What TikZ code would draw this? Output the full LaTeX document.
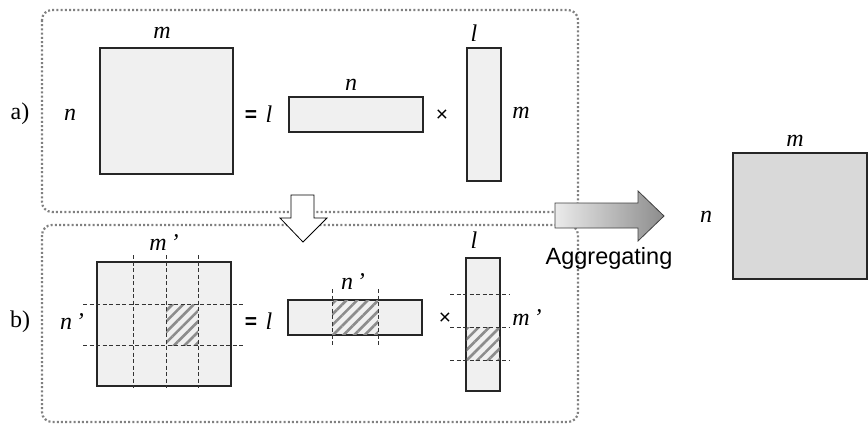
\documentclass[tikz,border=0pt]{standalone}
\usepackage{fontspec}
\setmainfont{Liberation Serif}
\setsansfont{Liberation Sans}
\usepackage{tikz}
\usetikzlibrary{patterns.meta,shadows}

\tikzset{
  mat/.style={draw=black!85, line width=1.1pt, fill=black!6, inner sep=0pt,
    drop shadow={shadow xshift=1pt, shadow yshift=-1.2pt, opacity=0.25}},
  lab/.style={font=\fontsize{24}{28}\selectfont\itshape, inner sep=0pt},
  tag/.style={font=\fontsize{24}{28}\selectfont, inner sep=0pt},
  op/.style={font=\sffamily\fontsize{21}{24}\selectfont, inner sep=0pt},
  panel/.style={draw=black!50, line width=2.2pt, dash pattern=on 2pt off 2.2pt, rounded corners=10pt},
  grid/.style={black!80, line width=0.7pt, dash pattern=on 4pt off 2.5pt},
  hatch/.style={fill=white, pattern={Lines[angle=45, distance=7.5pt, line width=2.6pt]}, pattern color=black!45}
}

\begin{document}
\begin{tikzpicture}[x=1pt, y=-1pt]
    \useasboundingbox (0,0) rectangle (868,424);
    % Draw dotted panels
    \draw[panel] (42,10) rectangle (578,212);
    \draw[panel] (42,225) rectangle (578,422);

    % Panel a
    \node[mat, minimum width=133pt, minimum height=126pt] (Xa) at (166.5,111) {};
    \node[mat, minimum width=134pt, minimum height=35pt] (Ua) at (356,114.5) {};
    \node[mat, minimum width=34pt, minimum height=133pt] (Va) at (484,114.5) {};
    \node[tag] (tagA) at (20,114) {a)};
    \node[lab] (nXa) at (70,115) {n};
    \node[lab] (mXa) at (162,33) {m};
    \node[op, font=\sffamily\bfseries\fontsize{21}{24}\selectfont] (eqA) at (251,116) {=};
    \node[lab] (lUa) at (269,114) {l};
    \node[lab] (nUa) at (351,85) {n};
    \node[op] (timesA) at (442,116) {×};
    \node[lab] (lVa) at (474,33) {l};
    \node[lab] (mVa) at (521,113) {m};

    % Panel b
    \node[mat, minimum width=134pt, minimum height=124pt] (Xb) at (164,324) {};
    \node[mat, minimum width=134pt, minimum height=35pt] (Ub) at (355,317.5) {};
    \node[mat, minimum width=34pt, minimum height=133pt] (Vb) at (483,324.5) {};
    % Hatched blocks
    \fill[hatch] (166,304) rectangle (198,345);
    \fill[hatch] (332,300.5) rectangle (378,334.5);
    \fill[hatch] (466.5,327) rectangle (499.5,360);
    % Block grid
    \foreach \x in {133,166,198}
      \draw[grid] (\x,255) -- (\x,388);
    \foreach \y in {304,345}
      \draw[grid] (83,\y) -- (245,\y);
    \foreach \x in {332,378}
      \draw[grid] (\x,289) -- (\x,347);
    \foreach \y in {294,327,360}
      \draw[grid] (450,\y) -- (509,\y);
    \node[tag] (tagB) at (20,322) {b)};
    \node[lab] (nXb) at (72,322) {n\hspace{4pt}’};
    \node[lab] (mXb) at (164,243) {m\hspace{4pt}’};
    \node[op, font=\sffamily\bfseries\fontsize{21}{24}\selectfont] (eqB) at (251,323) {=};
    \node[lab] (lUb) at (269,321) {l};
    \node[lab] (nUb) at (353,282) {n\hspace{4pt}’};
    \node[op] (timesB) at (445,319) {×};
    \node[lab] (lVb) at (474,240) {l};
    \node[lab] (mVb) at (527,318) {m\hspace{4pt}’};

    % Down arrow between panels
    \draw[fill=white, line width=0.8pt, line join=miter]
      (291,195) -- (314,195) -- (314,218) -- (327,218) -- (303,242)
      -- (280,218) -- (291,218) -- cycle;

    % Aggregating arrow
    \draw[left color=black!8, right color=black!45, draw=black!75, line width=0.8pt]
      (555,203) -- (638,203) -- (638,191) -- (664,216) -- (638,241)
      -- (638,228) -- (555,228) -- cycle;
    \node[font=\sffamily\fontsize{23.5}{28}\selectfont, inner sep=0pt] (agg) at (609,258) {Aggregating};

    % Result
    \node[mat, fill=black!15, minimum width=134pt, minimum height=126pt] (X) at (800,216) {};
    \node[lab] (mX) at (795,141) {m};
    \node[lab] (nX) at (706,217) {n};
\end{tikzpicture}
\end{document}
